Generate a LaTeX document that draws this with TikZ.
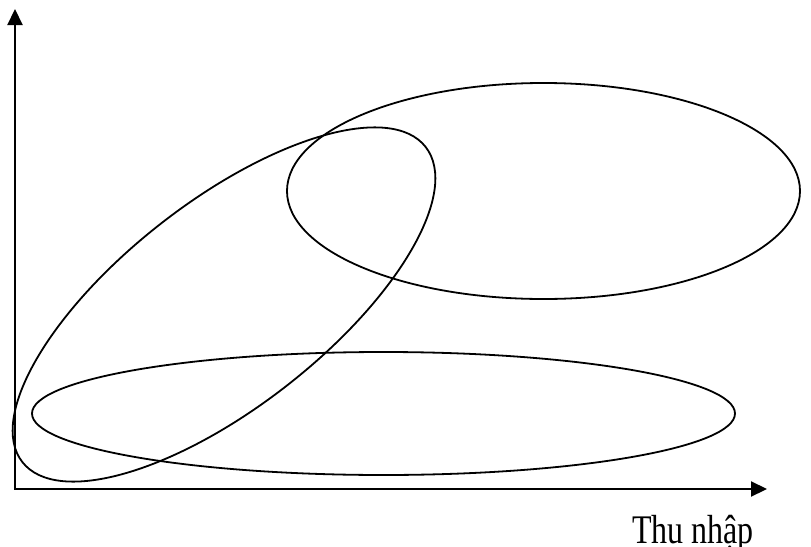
\documentclass[tikz,border=0pt]{standalone}
\usepackage{fontspec}
\setmainfont{Liberation Serif}
\usetikzlibrary{arrows.meta}

\begin{document}
\begin{tikzpicture}[x=0.5pt,y=-0.5pt,
    >={Triangle[length=8pt,width=7.5pt]},
    axis/.style={black,line width=1.1pt},
    blob/.style={black,line width=0.9pt}]
    \useasboundingbox (0,0) rectangle (811,547);
    % axes
    \coordinate (O) at (15,489);
    \coordinate (ytip) at (15,9);
    \coordinate (xtip) at (767,489);
    \draw[axis,<->] (ytip) -- (O) -- (xtip);
    % groups
    \draw[blob] (543.5,191) ellipse [x radius=128.25pt,y radius=54pt];
    \draw[blob] (383.5,413.5) ellipse [x radius=175.75pt,y radius=30.75pt];
    \draw[blob,shift={(224,304.5)},rotate=38] (0,0) ellipse [x radius=127.95pt,y radius=51.3pt];
    \node[anchor=base,font=\fontsize{16}{18}\selectfont,inner sep=0pt] (xlab) at (693,543) {\scalebox{1}[1.27]{Thu nhập}};
  \end{tikzpicture}
\end{document}
